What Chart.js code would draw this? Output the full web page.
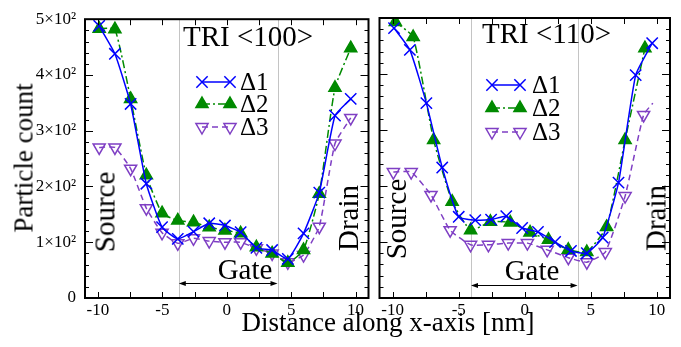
<!DOCTYPE html>
<html><head><meta charset="utf-8">
<script src="https://cdn.jsdelivr.net/npm/chart.js@4/dist/chart.umd.min.js"></script>
<style>
html,body{margin:0;padding:0;background:#fff;}
#wrap{position:relative;width:681px;height:347px;overflow:hidden;font-family:"Liberation Serif","Times New Roman",serif;color:#000;}
canvas{position:absolute;top:0;}
.t{position:absolute;white-space:nowrap;line-height:1;}
.r{transform:translate(-50%,-50%) rotate(-90deg);}
.m{transform:translate(-50%,-50%);}
</style></head><body>
<div id="wrap">
<canvas id="cl" width="378" height="347" style="left:0"></canvas>
<canvas id="cr" width="311" height="347" style="left:370px"></canvas>
<div class="t" style="left:183px;top:22px;font-size:29px">TRI &lt;100&gt;</div>
<div class="t" style="left:482px;top:19px;font-size:29px">TRI &lt;110&gt;</div>
<div class="t" style="left:240px;top:69px;font-size:25px">Δ1</div>
<div class="t" style="left:240px;top:91px;font-size:25px">Δ2</div>
<div class="t" style="left:240px;top:114px;font-size:25px">Δ3</div>
<div class="t" style="left:532px;top:72px;font-size:25px">Δ1</div>
<div class="t" style="left:532px;top:95px;font-size:25px">Δ2</div>
<div class="t" style="left:532px;top:119px;font-size:25px">Δ3</div>
<div class="t m" style="left:245px;top:269px;font-size:29px">Gate</div>
<div class="t m" style="left:532px;top:270px;font-size:29px">Gate</div>
<div class="t r" style="left:105px;top:212px;font-size:29px">Source</div>
<div class="t r" style="left:396px;top:219px;font-size:29px">Source</div>
<div class="t r" style="left:348px;top:218px;font-size:29px">Drain</div>
<div class="t r" style="left:656px;top:218px;font-size:29px">Drain</div>
<div class="t r" style="left:24px;top:158px;font-size:27px">Particle count</div>
<div class="t m" style="left:388px;top:322px;font-size:27px">Distance along x-axis [nm]</div>
</div>
<script>
// ---- data ----
const seriesNames = ['Δ1','Δ2','Δ3'];
const xTickVals = [-10,-5,0,5,10];
const xTickLabels = ['-10','-5','0','5','10'];
const yTickVals = [0,100,200,300,400,500];
const yTickLabels = ['0','1×10²','2×10²','3×10²','4×10²','5×10²'];

// left panel: TRI <100>
const xLeft  = [-9.9,-8.68,-7.46,-6.24,-5.02,-3.8,-2.58,-1.36,-0.14,1.08,2.3,3.52,4.74,5.96,7.18,8.4,9.62];
const leftD1 = [488,438,348,205,127,106,119,134,130,118,90,86,70,116,189,327,357];
const leftD2 = [483,482,357,220,152,139,136,127,121,116,91,80,63,86,187,377,448];
const leftD3 = [270,270,232,161,117,98,107,102,100,100,89,80,64,77,128,277,323];
const gateLeft = [-3.72,3.94];

// right panel: TRI <110>
const xRight1 = [-9.9,-8.7,-7.45,-6.25,-5.0,-3.75,-2.55,-1.4,-0.2,1.0,2.3,3.5,4.7,5.9,7.1,8.4,9.65];
const rightD1 = [482,443,348,233,145,139,140,146,125,118,100,84,80,108,206,398,455];
const xRight2 = [-9.8,-8.45,-6.9,-5.5,-4.1,-2.6,-1.1,0.4,1.8,3.3,4.7,6.2,7.6,9.1];
const rightD2 = [493,466,282,172,121,136,135,117,104,86,82,127,282,446];
const xRight3 = [-9.95,-8.6,-7.1,-5.65,-4.1,-2.75,-1.25,0.2,1.7,3.3,4.7,6.1,7.6,9.0,9.7];
const rightD3 = [225,225,184,121,95,95,98,98,86,72,64,82,182,327,348];
const gateRight = [-4.07,4.0];

// ---- styles ----
const BLUE='#0000ff', GREEN='#008a00', PURPLE='#7f3fc4';
const styles = [
  {color:BLUE, dash:[], marker:'crossRot', r:8, fill:'rgba(0,0,0,0)', rot:0},
  {color:GREEN, dash:[8,3,2,3], marker:'triangle', r:7, fill:GREEN, rot:0},
  {color:PURPLE, dash:[6,4], marker:'triangle', r:7, fill:'rgba(0,0,0,0)', rot:180}
];

function pts(xs, ys){ return xs.map((x,i)=>({x:x, y:ys[i]})); }

function makeDataset(i, xs, ys, noMarkerLast){
  const s = styles[i];
  const radius = xs.map((_,k)=> (noMarkerLast && k===xs.length-1) ? 0 : s.r);
  return {
    label: seriesNames[i], data: pts(xs, ys),
    borderColor: s.color, borderWidth: 1.5, borderDash: s.dash,
    pointStyle: s.marker, pointRadius: radius, pointHoverRadius: radius,
    pointRotation: s.rot, pointBorderColor: s.color, pointBackgroundColor: s.fill,
    pointBorderWidth: 1.5, backgroundColor: s.fill, tension: 0.15, fill: false
  };
}

function drawMarker(ctx, type, rot, x, y, r, color, fill){
  ctx.save();
  ctx.setLineDash([]);
  ctx.strokeStyle = color; ctx.lineWidth = 1.5; ctx.fillStyle = fill;
  ctx.beginPath();
  if (type === 'crossRot'){
    const d = r*Math.SQRT1_2;
    ctx.moveTo(x-d,y-d); ctx.lineTo(x+d,y+d);
    ctx.moveTo(x+d,y-d); ctx.lineTo(x-d,y+d);
    ctx.stroke();
  } else {
    const s = rot===180 ? -1 : 1;
    ctx.moveTo(x, y - s*r);
    ctx.lineTo(x + 0.866*r, y + s*0.5*r);
    ctx.lineTo(x - 0.866*r, y + s*0.5*r);
    ctx.closePath();
    ctx.fill(); ctx.stroke();
  }
  ctx.restore();
}

const deco = {
  id:'deco',
  beforeDatasetsDraw(chart, args, o){
    const {ctx, chartArea:a, scales:{x}} = chart;
    ctx.save();
    ctx.strokeStyle = '#c4c4c4'; ctx.lineWidth = 1;
    o.gates.forEach(g=>{
      const px = Math.round(x.getPixelForValue(g)) + 0.5;
      ctx.beginPath(); ctx.moveTo(px, a.top); ctx.lineTo(px, a.bottom); ctx.stroke();
    });
    ctx.restore();
  },
  afterDraw(chart, args, o){
    const {ctx, chartArea:a, scales:{x,y}} = chart;
    ctx.save();
    // arrow between gate lines
    const ay = Math.round(y.getPixelForValue(o.arrowY)) + 0.5;
    const x0 = x.getPixelForValue(o.gates[0]), x1 = x.getPixelForValue(o.gates[1]);
    ctx.strokeStyle = '#000'; ctx.fillStyle = '#000'; ctx.lineWidth = 1;
    ctx.beginPath(); ctx.moveTo(x0+2, ay); ctx.lineTo(x1-2, ay); ctx.stroke();
    ctx.beginPath(); ctx.moveTo(x0, ay); ctx.lineTo(x0+7, ay-2.5); ctx.lineTo(x0+7, ay+2.5); ctx.closePath(); ctx.fill();
    ctx.beginPath(); ctx.moveTo(x1, ay); ctx.lineTo(x1-7, ay-2.5); ctx.lineTo(x1-7, ay+2.5); ctx.closePath(); ctx.fill();
    // inward ticks
    ctx.lineWidth = 1;
    ctx.beginPath();
    for (let v=-10; v<=10; v+=2.5){
      const px = Math.round(x.getPixelForValue(v)) + 0.5;
      ctx.moveTo(px, a.bottom); ctx.lineTo(px, a.bottom-6);
      ctx.moveTo(px, a.top); ctx.lineTo(px, a.top+6);
    }
    for (let v=0; v<=500; v+=20){
      const py = Math.round(y.getPixelForValue(v)) + 0.5;
      const len = (v % 100 === 0) ? 8 : 4;
      ctx.moveTo(a.left, py); ctx.lineTo(a.left+len, py);
      ctx.moveTo(a.right, py); ctx.lineTo(a.right-len, py);
    }
    ctx.stroke();
    // frame
    ctx.lineWidth = 2;
    ctx.strokeRect(a.left, a.top, a.right-a.left, a.bottom-a.top);
    // legend samples
    const L = o.legend;
    styles.forEach((s,i)=>{
      const ly = L.rows[i];
      ctx.save();
      ctx.strokeStyle = s.color; ctx.lineWidth = 1.5; ctx.setLineDash(s.dash);
      ctx.beginPath(); ctx.moveTo(L.x0, ly); ctx.lineTo(L.x1, ly); ctx.stroke();
      ctx.restore();
      drawMarker(ctx, s.marker, s.rot, L.x0, ly, s.r, s.color, s.fill);
      drawMarker(ctx, s.marker, s.rot, L.x1, ly, s.r, s.color, s.fill);
    });
    ctx.restore();
  }
};

Chart.defaults.font.family = "'Liberation Serif','Times New Roman',serif";
Chart.defaults.color = '#000';

function makeOptions(showY, padRight, yWidth, gates, arrowY, legend){
  return {
    responsive:false, animation:false,
    layout:{padding:{left:0, right:padRight, top:18, bottom:0}},
    plugins:{legend:{display:false}, tooltip:{enabled:false},
      deco:{gates:gates, arrowY:arrowY, legend:legend}},
    scales:{
      x:{type:'linear', min:-11, max:11,
        afterBuildTicks:s=>{ s.ticks = xTickVals.map(v=>({value:v})); },
        afterFit:s=>{ s.height = 49; },
        ticks:{callback:v=>xTickLabels[xTickVals.indexOf(v)], padding:2, font:{size:17}, maxRotation:0, autoSkip:false},
        grid:{display:false, drawTicks:false}, border:{display:false}},
      y:{type:'linear', min:0, max:500,
        afterBuildTicks:s=>{ s.ticks = yTickVals.map(v=>({value:v})); },
        afterFit:s=>{ s.width = yWidth; },
        ticks:{display:showY, callback:v=>yTickLabels[yTickVals.indexOf(v)], padding:9, font:{size:17}},
        grid:{display:false, drawTicks:false}, border:{display:false}}
    }
  };
}

new Chart(document.getElementById('cl'), {
  type:'line',
  data:{datasets:[
    makeDataset(0, xLeft, leftD1, false),
    makeDataset(1, xLeft, leftD2, false),
    makeDataset(2, xLeft, leftD3, false)
  ]},
  options: makeOptions(true, 3, 85, gateLeft, 27, {x0:202, x1:230, rows:[82,104,127]}),
  plugins:[deco]
});

new Chart(document.getElementById('cr'), {
  type:'line',
  data:{datasets:[
    makeDataset(0, xRight1, rightD1, false),
    makeDataset(1, xRight2, rightD2, false),
    makeDataset(2, xRight3, rightD3, true)
  ]},
  options: makeOptions(false, 11, 8, gateRight, 23, {x0:122, x1:150, rows:[85,108,132]}),
  plugins:[deco]
});
</script>
</body></html>
